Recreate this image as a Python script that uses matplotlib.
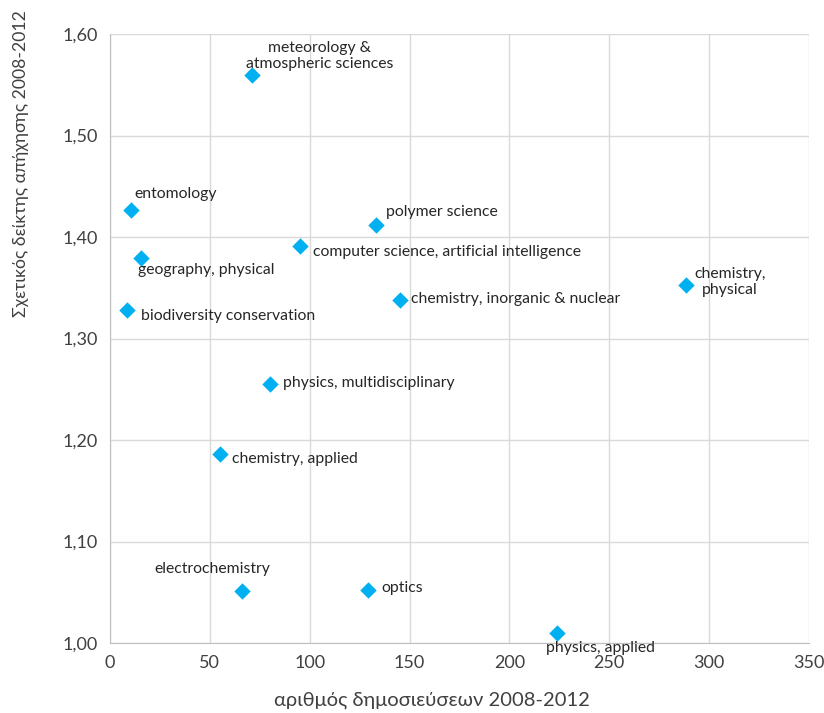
import matplotlib
matplotlib.use("Agg")
import matplotlib.pyplot as plt
from matplotlib.ticker import FuncFormatter, MultipleLocator

plt.rcParams['font.family'] = ['Lato', 'DejaVu Sans']

categories = ["meteorology &\natmospheric sciences", "entomology", "geography, physical",
              "biodiversity conservation", "computer science, artificial intelligence",
              "polymer science", "chemistry, inorganic & nuclear", "chemistry,\nphysical",
              "physics, multidisciplinary", "chemistry, applied", "electrochemistry",
              "optics", "physics, applied"]
publications = [71, 10.5, 15.5, 8.5, 95, 133, 145, 288.5, 80, 55, 66, 129, 224]
citation_index = [1.560, 1.427, 1.379, 1.328, 1.391, 1.412, 1.338, 1.353, 1.255, 1.186, 1.051, 1.052, 1.010]

# label placement (offset in pixels, horizontal alignment)
label_offsets = [(68, 4, 'center', 'bottom'), (3, 16, 'left', 'center'), (-3, -12, 'left', 'center'),
                 (14, -6, 'left', 'center'), (13, -6, 'left', 'center'), (10, 13, 'left', 'center'),
                 (11, 1, 'left', 'center'), (44, 3, 'center', 'center'), (13, 1, 'left', 'center'),
                 (12, -5, 'left', 'center'), (-29, 22, 'center', 'center'), (14, 2, 'left', 'center'),
                 (43, -15, 'center', 'center')]

fig = plt.figure(figsize=(8.24, 7.13), dpi=100)
ax = fig.add_axes([110/824, 70/713, 699/824, 609/713])

ax.scatter(publications, citation_index, marker='D', s=70, color='#00B0F0', zorder=3, linewidths=0)

px2pt = 72/100
for name, x, y, (dx, dy, ha, va) in zip(categories, publications, citation_index, label_offsets):
    ax.annotate(name, (x, y), xytext=(dx*px2pt, dy*px2pt), textcoords='offset points',
                ha=ha, va=va, multialignment='center', fontsize=11.3, color='#262626',
                linespacing=1.15)

ax.set_xlim(0, 350)
ax.set_ylim(1.0, 1.6)
ax.xaxis.set_major_locator(MultipleLocator(50))
ax.yaxis.set_major_locator(MultipleLocator(0.1))
ax.yaxis.set_major_formatter(FuncFormatter(lambda v, p: f"{v:.2f}".replace('.', ',')))
ax.grid(True, color='#D9D9D9', linewidth=1)
ax.set_axisbelow(True)
for s in ['top', 'right']:
    ax.spines[s].set_visible(False)
for s in ['left', 'bottom']:
    ax.spines[s].set_color('#BFBFBF')
ax.tick_params(length=0, labelsize=13, colors='#404040', pad=9)
ax.set_xlabel("αριθμός δημοσιεύσεων 2008-2012", fontsize=14.5, color='#404040', va='center')
ax.set_ylabel("Σχετικός δείκτης απήχησης 2008-2012", fontsize=12.7, color='#404040', va='center')
ax.xaxis.set_label_coords(0.461, -0.0936)
ax.yaxis.set_label_coords(-0.127, 0.787)

fig.savefig("out.png", dpi=100)
